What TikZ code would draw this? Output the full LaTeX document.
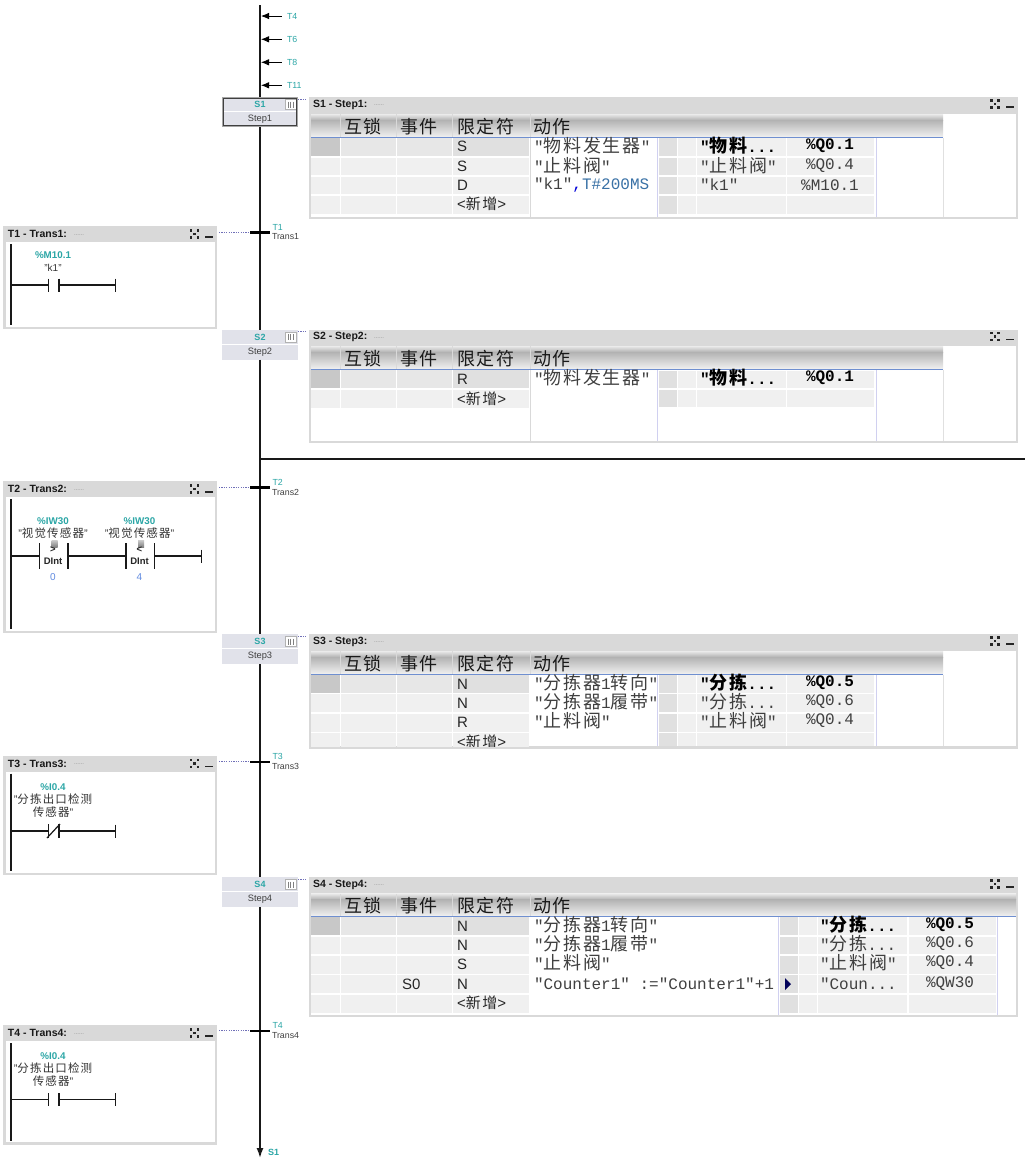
\documentclass[tikz,border=0pt]{standalone}
\usepackage{fontspec}
\usetikzlibrary{arrows.meta}
\setmainfont{Liberation Sans}
\newfontfamily\monof{Liberation Mono}
\newfontfamily\cjkf[LetterSpace=10]{Noto Sans CJK SC}
\definecolor{teal1}{HTML}{2BA6A6}
\definecolor{panelg}{HTML}{D9D9D9}
\definecolor{cellc}{HTML}{F0F0F0}
\definecolor{celld}{HTML}{E0E0E0}
\definecolor{celldd}{HTML}{C8C8C8}
\definecolor{stepc}{HTML}{E1E2EA}
\definecolor{bluel}{HTML}{6F8FD0}
\definecolor{vline}{HTML}{D0D0F0}
\definecolor{valblue}{HTML}{5F8AE0}
\definecolor{linkc}{HTML}{7070B8}
\newcommand\zh[2][18]{{\cjkf\fontsize{#1}{#1}\selectfont #2}}
\newcount\nn
\newcommand\tx[4]{\global\advance\nn by 1 \node[#1,name=n\the\nn] at (#2,#3) {#4};}
\tikzset{
 every node/.style={inner sep=0pt,outer sep=0pt},
 mono/.style={anchor=west,text=black!75,font=\monof\fontsize{16}{16}\selectfont},
 monob/.style={anchor=west,text=black,font=\monof\bfseries\fontsize{16}{16}\selectfont},
 monoc/.style={mono,anchor=center},
 monobc/.style={monob,anchor=center},
 qual/.style={anchor=west,text=black!85,font=\fontsize{15}{15}\selectfont},
 headt/.style={anchor=west,text=black!90},
 title/.style={anchor=west,text=black!90,font=\bfseries\fontsize{10.5}{10.5}\selectfont},
 dotsx/.style={anchor=west,text=black!45,font=\fontsize{6}{6}\selectfont},
 tealb/.style={text=teal1,font=\bfseries\fontsize{9.8}{10}\selectfont},
 teals/.style={text=teal1,font=\fontsize{8.8}{9}\selectfont},
 tealsb/.style={text=teal1,font=\bfseries\fontsize{9}{9}\selectfont},
 small/.style={text=black!75,font=\fontsize{8.8}{9}\selectfont},
 stepsub/.style={text=black!75,font=\fontsize{9.3}{9.5}\selectfont},
 varq/.style={text=black!80,font=\fontsize{10}{10}\selectfont},
 varn/.style={text=black!80,align=center,font=\fontsize{11}{13}\selectfont},
 dint/.style={text=black!85,font=\bfseries\fontsize{9.5}{10}\selectfont},
 valb/.style={text=valblue,font=\fontsize{10}{10}\selectfont},
 stepbox/.style={rectangle,fill=stepc,minimum width=76pt,minimum height=30pt,anchor=north},
 panelbox/.style={rectangle,fill=panelg,anchor=north west},
 barnode/.style={rectangle,fill=black,minimum width=20pt,minimum height=2.4pt},
 mainline/.style={line width=1.5pt,black!90},
 wire/.style={line width=1.2pt,black!90},
 rail/.style={line width=1.4pt,black!90},
 dotlink/.style={line width=1pt,color=linkc,dash pattern=on 1.2pt off 1.2pt},
 inarrow/.style={line width=0.8pt,black,-{Latex[length=8pt,width=6.5pt]}},
 vsep/.style={line width=0.8pt},
}
% window icons: centre of expand icon at #1,#2
\newcommand\winicons[2]{%
 \foreach \p/\q in {-3.5/-3.5,3.5/-3.5,-3.5/3.5,3.5/3.5,0/0}{\fill[black!85] (#1+\p-1.2,#2+\q-1.2) rectangle (#1+\p+1.2,#2+\q+1.2);}
 \fill[black!85] (#1+10.5,#2+2) rectangle (#1+18.5,#2+3.6);}
\newcommand\stepnode[4][]{% name, sub, top
 \node[stepbox] (#2) at (260,#4) {};
 \pgfmathsetmacro\ym{#4+14.5}
 \draw[white,line width=1pt] (222,\ym) -- (298,\ym);
 \pgfmathsetmacro\ya{#4+7.5}\pgfmathsetmacro\yb{#4+22.5}
 \tx{tealsb}{260}{\ya}{#2}
 \tx{stepsub}{260}{\yb}{#3}
 \pgfmathsetmacro\ia{#4+2.5}\pgfmathsetmacro\ib{#4+12.5}
 \draw[black!30,fill=white,line width=0.5pt] (285,\ia) rectangle (296,\ib);
 \foreach \k in {288,290.5,293}{\draw[black!50,line width=0.7pt] (\k,\ia+2) -- (\k,\ib-2);}
}
% step panel: name, title, top, bottom
\newcommand\steppanel[4]{%
 \pgfmathsetmacro\hh{#4-#3}
 \node[panelbox,minimum width=709pt,minimum height=\hh pt] (#1) at (309,#3) {};
 \pgfmathsetmacro\ia{#3+16.5}\pgfmathsetmacro\ib{#4-2}
 \fill[white] (311,\ia) rectangle (1016,\ib);
 \pgfmathsetmacro\ty{#3+7.5}
 \tx{title}{313}{\ty}{#2}
 \tx{dotsx}{374}{\ty+1}{......}
 \winicons{995}{\ty-0.5}
}
% table header: top of header, bottom of header, right end
\newcommand\tablehead[3]{%
 \pgfmathsetmacro\ga{#1+6}
 \shade[top color=white!92!black,bottom color=black!30] (311,#1) rectangle (#3,\ga);
 \shade[top color=black!30,bottom color=white!95!black] (311,\ga) rectangle (#3,#2);
 \foreach \k in {340,396,452.5,530}{\draw[white!85!black,vsep] (\k,#1) -- (\k,#2);}
 \pgfmathsetmacro\tc{(#1+#2)/2+0.5}
 \tx{headt}{344}{\tc}{\zh[18]{互锁}}
 \tx{headt}{400}{\tc}{\zh[18]{事件}}
 \tx{headt}{457}{\tc}{\zh[18]{限定符}}
 \tx{headt}{533}{\tc}{\zh[18]{动作}}
 \draw[bluel,line width=1pt] (311,#2) -- (#3,#2);
}
\newcommand\firstL[2]{%
 \fill[celldd] (311,#1) rectangle (339.5,#2);
 \fill[celld!60!cellc] (341,#1) rectangle (396,#2);
 \fill[celld!60!cellc] (397,#1) rectangle (452,#2);
 \fill[celld] (453,#1) rectangle (529,#2);}
\newcommand\rowL[2]{\foreach \a/\b in {311/339.5,341/396,397/452,453/529}{\fill[cellc] (\a,#1) rectangle (\b,#2);}}
\def\rzero{659}\def\rone{677}
\def\rcols{678/696,697/785.5,786.5/874}
\newcommand\rowR[2]{%
 \fill[celld] (\rzero,#1) rectangle (\rone,#2);
 \foreach \a/\b in \rcols {\fill[cellc] (\a,#1) rectangle (\b,#2);}}
\newcommand\acttxt[3]{\begin{scope}\clip (531,#2-12) rectangle (#1,#2+12);\tx{mono}{534}{#2}{#3}\end{scope}}
% trans panel: name,title,top,bottom
\newcommand\transpanel[4]{%
 \pgfmathsetmacro\hh{#4-#3}
 \node[panelbox,minimum width=214pt,minimum height=\hh pt] (#1) at (3,#3) {};
 \pgfmathsetmacro\ia{#3+16}\pgfmathsetmacro\ib{#4-2.5}
 \fill[white] (5.5,\ia) rectangle (215,\ib);
 \pgfmathsetmacro\ty{#3+8}
 \tx{title}{8}{\ty}{#2}
 \tx{dotsx}{74}{\ty+1}{......}
 \winicons{194.5}{\ty}
 \pgfmathsetmacro\ra{#3+18}\pgfmathsetmacro\rb{#4-4}
 \draw[rail] (11,\ra) -- (11,\rb);
}
\newcommand\vbar[3]{\draw[wire] (#1,#2-#3) -- (#1,#2+#3);}
\begin{document}
\begin{tikzpicture}[x=1pt,y=-1pt]
\useasboundingbox (0,0) rectangle (1025,1163);
\fill[white] (0,0) rectangle (1025,1163);

% ===== main chain =====
\coordinate (top) at (260,5);
\coordinate (endp) at (260,1158);
\stepnode{S1}{Step1}{97}
\stepnode{S2}{Step2}{329.5}
\stepnode{S3}{Step3}{634}
\stepnode{S4}{Step4}{877}
\draw[black!35,line width=1pt] (222.2,97.2) rectangle (297.8,126.8);
\draw[black!75,line width=1.1pt] (223.6,98.4) rectangle (296.4,125.6);
\node[barnode] (T1) at (260,232.3) {};
\node[barnode] (T2) at (260,487.3) {};
\node[barnode] (T3) at (260,761.7) {};
\node[barnode] (T4) at (260,1030.7) {};
\draw[mainline] (top) -- (S1);
\draw[mainline] (S1) -- (T1);
\draw[mainline] (T1) -- (S2);
\draw[mainline] (S2) -- (T2);
\draw[mainline] (T2) -- (S3);
\draw[mainline] (S3) -- (T3);
\draw[mainline] (T3) -- (S4);
\draw[mainline] (S4) -- (T4);
\draw[mainline,-{Latex[length=10pt,width=7pt]}] (T4) -- (endp);
\node[tealsb,anchor=west] (endlab) at (268,1152) {S1};

% incoming jumps
\foreach \yy/\lb in {16/T4,39.3/T6,62.3/T8,85.3/T11}{
 \coordinate (ja\lb) at (281.5,\yy);
 \coordinate (jb\lb) at (261,\yy);
 \draw[inarrow] (ja\lb) -- (jb\lb);
 \node[teals,anchor=west] (jl\lb) at (287,\yy) {\lb};
}
% horizontal divergence line
\coordinate (hl) at (260,458.7);
\coordinate (hr) at (1025,458.7);
\draw[line width=1.8pt,black!90] (hl) -- (hr);

% transition labels
\tx{teals,anchor=west}{272.5}{227}{T1}\tx{small,anchor=west}{272}{237}{Trans1}
\tx{teals,anchor=west}{272.5}{482}{T2}\tx{small,anchor=west}{272}{492}{Trans2}
\tx{teals,anchor=west}{272.5}{756.5}{T3}\tx{small,anchor=west}{272}{766.5}{Trans3}
\tx{teals,anchor=west}{272.5}{1025.5}{T4}\tx{small,anchor=west}{272}{1035.5}{Trans4}

% ===== step 1 panel =====
\steppanel{S1p}{S1 - Step1:}{97}{219}
\tablehead{114}{137.5}{943}
\firstL{138}{156}\rowL{158}{175}\rowL{176.5}{194}\rowL{195.5}{214}
\draw[white!85!black,vsep] (530,138) -- (530,217);
\draw[vline,vsep] (657.5,138) -- (657.5,217);
\draw[vline,vsep] (876.5,138) -- (876.5,217);
\draw[white!88!black,vsep] (943,138) -- (943,217);
\rowR{138}{156}\rowR{157.5}{175}\rowR{177}{194}\rowR{196}{214}
\tx{qual}{457}{146}{S}\tx{qual}{457}{166}{S}\tx{qual}{457}{185}{D}
\tx{qual}{457}{204}{<\zh[15]{新增}>}
\acttxt{657}{146}{"\zh{物料发生器}"}
\acttxt{657}{166}{"\zh{止料阀}"}
\acttxt{657}{185}{"k1"\textcolor{blue!85!black}{,}\textcolor{cyan!60!blue!75!black}{T\#200MS}}
\tx{monob}{700}{146}{"\zh{物料}...}\tx{monobc}{830}{146}{\%Q0.1}
\tx{mono}{700}{166}{"\zh{止料阀}"}\tx{monoc}{830}{166}{\%Q0.4}
\tx{mono}{700}{185}{"k1"}\tx{monoc}{830}{185}{\%M10.1}

% ===== step 2 panel =====
\steppanel{S2p}{S2 - Step2:}{329.5}{443}
\tablehead{346}{369.5}{943}
\firstL{370}{388}\rowL{389.5}{408}
\draw[white!85!black,vsep] (530,370) -- (530,441);
\draw[vline,vsep] (657.5,370) -- (657.5,441);
\draw[vline,vsep] (876.5,370) -- (876.5,441);
\draw[white!88!black,vsep] (943,370) -- (943,441);
\rowR{370.5}{388}\rowR{390}{407}
\tx{qual}{457}{379}{R}
\tx{qual}{457}{399}{<\zh[15]{新增}>}
\acttxt{657}{378}{"\zh{物料发生器}"}
\tx{monob}{700}{378}{"\zh{物料}...}\tx{monobc}{830}{378}{\%Q0.1}

% ===== step 3 panel =====
\steppanel{S3p}{S3 - Step3:}{634}{748}
\tablehead{651}{674.5}{943}
\firstL{675}{692.5}\rowL{694}{712}\rowL{714}{731.5}\rowL{733}{747}
\draw[vline,vsep] (657.5,675) -- (657.5,746);
\draw[vline,vsep] (876.5,675) -- (876.5,746);
\draw[white!88!black,vsep] (943,675) -- (943,746);
\rowR{675}{692.5}\rowR{694}{712}\rowR{714}{731.5}\rowR{733}{746}
\tx{qual}{457}{684}{N}\tx{qual}{457}{703}{N}\tx{qual}{457}{722}{R}
\tx{qual}{457}{742}{<\zh[15]{新增}>}
\acttxt{657}{683}{"\zh{分拣器}1\zh{转向}"}
\acttxt{657}{702}{"\zh{分拣器}1\zh{履带}"}
\acttxt{657}{721}{"\zh{止料阀}"}
\tx{monob}{700}{683}{"\zh{分拣}...}\tx{monobc}{830}{683}{\%Q0.5}
\tx{mono}{700}{702}{"\zh{分拣}...}\tx{monoc}{830}{702}{\%Q0.6}
\tx{mono}{700}{721}{"\zh{止料阀}"}\tx{monoc}{830}{721}{\%Q0.4}
\fill[panelg] (309,746.5) rectangle (1018,748.5);
\fill[white] (309,748.5) rectangle (1018,754);

% ===== step 4 panel =====
\steppanel{S4p}{S4 - Step4:}{877}{1017}
\tablehead{893.5}{916.5}{1016}
\firstL{917}{935}\rowL{936.5}{954}\rowL{956}{973.5}\rowL{975}{993}\rowL{994.5}{1013}
\draw[vline,vsep] (778,917) -- (778,1015);
\draw[vline,vsep] (997.5,917) -- (997.5,1015);
\def\rzero{780}\def\rone{797.5}
\def\rcols{799/816.5,818/907,908.5/996}
\rowR{917}{935}\rowR{936.5}{954}\rowR{956}{973.5}\rowR{975}{993}\rowR{994.5}{1013}
\tx{qual}{457}{926}{N}\tx{qual}{457}{945}{N}\tx{qual}{457}{964}{S}\tx{qual}{457}{984}{N}
\tx{qual}{402}{984}{S0}
\tx{qual}{457}{1003}{<\zh[15]{新增}>}
\acttxt{778}{925}{"\zh{分拣器}1\zh{转向}"}
\acttxt{778}{944}{"\zh{分拣器}1\zh{履带}"}
\acttxt{778}{963}{"\zh{止料阀}"}
\acttxt{778}{984}{"Counter1" :="Counter1"+1}
\fill[blue!35!black] (785,978) -- (791,984) -- (785,990) -- cycle;
\tx{monob}{820}{925}{"\zh{分拣}...}\tx{monobc}{950}{925}{\%Q0.5}
\tx{mono}{820}{944}{"\zh{分拣}...}\tx{monoc}{950}{944}{\%Q0.6}
\tx{mono}{820}{963}{"\zh{止料阀}"}\tx{monoc}{950}{963}{\%Q0.4}
\tx{mono}{820}{984}{"Coun...}\tx{monoc}{950}{984}{\%QW30}

% step-panel links
\foreach \s in {S1,S2,S3,S4}{
 \draw[dotlink,shorten >=3pt] ([yshift=-2pt]\s.north east) -- ([yshift=-2pt]\s p.north west);
}

% ===== transition panels =====
\transpanel{T1p}{T1 - Trans1:}{226}{329}
\tx{tealb}{53}{255}{\%M10.1}
\tx{varq}{53}{268}{"k1"}
\draw[wire] (11,285) -- (48.5,285);\vbar{48.5}{285}{6.5}\vbar{59}{285}{6.5}
\draw[wire] (59,285) -- (115.5,285);\vbar{115.5}{285}{6.5}

\transpanel{T2p}{T2 - Trans2:}{481}{633}
\tx{tealb}{53}{521.5}{\%IW30}
\tx{varn}{53}{533.5}{"\zh[11.5]{视觉传感器}"}
\tx{tealb}{139.5}{521.5}{\%IW30}
\tx{varn}{139.5}{533.5}{"\zh[11.5]{视觉传感器}"}
\foreach \cx/\sg/\vv in {53/>/0,139.5/</4}{
 \shade[top color=black!20,bottom color=black!50] (\cx-1.5,540) rectangle (\cx+4.5,547);
 \node[dint] (cmp\vv) at (\cx,550) {\sg};
 \node[dint] (typ\vv) at (\cx,561.5) {DInt};
 \node[valb] (val\vv) at (\cx,577) {\vv};
 \vbar{\cx-13.5}{556}{13}\vbar{\cx+15}{556}{13}
}
\draw[wire] (11,556) -- (39.5,556);
\draw[wire] (68,556) -- (126,556);
\draw[wire] (154.5,556) -- (201.5,556);\vbar{201.5}{556}{6.5}

\transpanel{T3p}{T3 - Trans3:}{755.5}{875}
\tx{tealb}{53}{787}{\%I0.4}
\tx{varn}{53}{806}{"\zh[11.5]{分拣出口检测}\\\zh[11.5]{传感器}"}
\draw[wire] (11,831) -- (48.5,831);\vbar{48.5}{831}{7}\vbar{59}{831}{7}
\draw[wire] (47,838) -- (60,824);
\draw[wire] (59,831) -- (115.5,831);\vbar{115.5}{831}{6.5}

\transpanel{T4p}{T4 - Trans4:}{1025}{1144.5}
\tx{tealb}{53}{1056.5}{\%I0.4}
\tx{varn}{53}{1075}{"\zh[11.5]{分拣出口检测}\\\zh[11.5]{传感器}"}
\draw[wire] (11,1099.5) -- (48.5,1099.5);\vbar{48.5}{1099.5}{6.5}\vbar{59}{1099.5}{6.5}
\draw[wire] (59,1099.5) -- (115.5,1099.5);\vbar{115.5}{1099.5}{6.5}

% trans-panel links
\foreach \t in {T1,T2,T3,T4}{
 \draw[dotlink,shorten <=2pt] (\t p.east |- \t.west) -- (\t.west);
}
\end{tikzpicture}
\end{document}
